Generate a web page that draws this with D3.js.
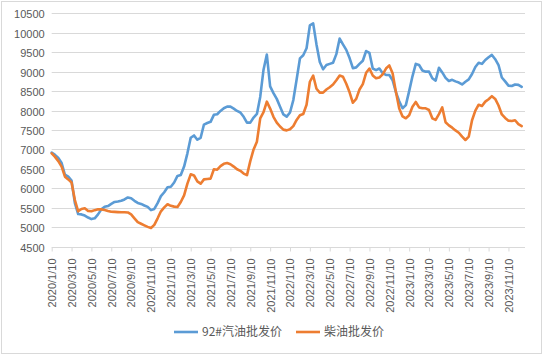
<!DOCTYPE html>
<html><head><meta charset="utf-8">
<script src="https://cdn.jsdelivr.net/npm/d3@7"></script>
<style>
body{margin:0;background:#fff;}
svg{display:block;font-family:"Liberation Sans",Arial,sans-serif;}
</style></head>
<body><svg id="c" width="544" height="356"></svg>
<script>
const seriesNames = ["92#汽油批发价", "柴油批发价"];
const gasoline = [6920,6860,6780,6650,6350,6300,6200,5620,5340,5330,5300,5250,5210,5230,5330,5460,5525,5545,5600,5650,
5660,5680,5715,5765,5745,5680,5625,5600,5560,5525,5440,5470,5620,5800,5900,6030,6040,6150,6320,6344,
6560,6900,7300,7360,7250,7300,7640,7680,7710,7890,7905,7990,8060,8100,8100,8050,7990,7950,7840,7690,
7690,7820,7912,8350,9050,9440,8620,8450,8300,8100,7900,7843,7950,8270,8800,9340,9420,9600,10190,10240,
9700,9250,9060,9170,9200,9230,9450,9850,9700,9560,9350,9090,9110,9200,9280,9530,9480,9080,9040,9080,
8960,8915,8915,8780,8470,8240,8060,8140,8500,8880,9200,9170,9030,9000,9000,8830,8770,9100,8980,8840,
8760,8790,8750,8720,8670,8740,8800,8940,9120,9230,9200,9300,9370,9430,9320,9170,8850,8750,8640,8630,
8670,8660,8610];
const diesel = [6900,6810,6700,6560,6300,6230,6150,5700,5410,5470,5490,5420,5410,5440,5463,5460,5445,5420,5400,5395,
5390,5386,5386,5380,5330,5230,5130,5090,5050,5010,4980,5060,5230,5410,5510,5590,5550,5530,5520,5650,
5820,6120,6360,6330,6180,6120,6230,6240,6250,6490,6480,6570,6630,6650,6620,6560,6490,6450,6380,6340,
6700,7000,7200,7800,7960,8228,8050,7840,7690,7590,7510,7490,7520,7600,7760,7880,7912,8150,8740,8900,
8560,8460,8460,8540,8600,8670,8780,8900,8870,8690,8470,8200,8300,8540,8680,8970,9080,8900,8829,8850,
8930,9080,9160,8960,8480,8050,7850,7801,7880,8100,8220,8080,8058,8058,8015,7801,7758,7910,8080,7700,
7620,7560,7490,7430,7329,7244,7329,7750,8000,8150,8117,8230,8290,8370,8300,8130,7900,7810,7740,7730,
7750,7650,7600];
const tickLabels = ["2020/1/10","2020/3/10","2020/5/10","2020/7/10","2020/9/10","2020/11/10",
"2021/1/10","2021/3/10","2021/5/10","2021/7/10","2021/9/10","2021/11/10",
"2022/1/10","2022/3/10","2022/5/10","2022/7/10","2022/9/10","2022/11/10",
"2023/1/10","2023/3/10","2023/5/10","2023/7/10","2023/9/10","2023/11/10"];
const yTicks = [4500,5000,5500,6000,6500,7000,7500,8000,8500,9000,9500,10000,10500];

// categories: 10th, 20th and month end of each month, 2020-2023
const categories = [];
for (let y = 2020; y <= 2023; y++) for (let m = 1; m <= 12; m++) {
  const last = new Date(y, m, 0).getDate();
  [10, 20, Math.min(30, last)].forEach(d => categories.push(`${y}/${m}/${d}`));
}

const svg = d3.select("#c");
svg.append("rect").attr("x",1.5).attr("y",1.5).attr("width",540).attr("height",352)
  .attr("fill","#fff").attr("stroke","#d9d9d9");

const x = d3.scalePoint().domain(categories).range([51.7, 525]);
const y = d3.scaleLinear().domain([4500, 10500]).range([246.7, 13.3]);

// grid
svg.append("g").selectAll("line").data(yTicks.slice(1)).join("line")
  .attr("x1", 51.7).attr("x2", 525).attr("y1", d => Math.round(y(d))+0.5).attr("y2", d => Math.round(y(d))+0.5)
  .attr("stroke", "#d9d9d9").attr("stroke-width", 1);

// y axis labels
const ya = svg.append("g").attr("transform","translate(51.7,0)")
  .call(d3.axisLeft(y).tickValues(yTicks).tickSize(0).tickPadding(7).tickFormat(d3.format("d")));
ya.select(".domain").remove();
ya.selectAll("text").attr("fill","#595959").style("font-size","11px")
  .attr("y", 0).attr("dy","0.35em")
  .attr("transform", d => `translate(0,${Math.round(y(d))+0.5 - y(d)})`);

// x axis
const xa = svg.append("g").attr("transform", `translate(0,${Math.round(y(4500))+0.5})`)
  .call(d3.axisBottom(x).tickValues(tickLabels).tickSizeInner(4).tickSizeOuter(0));
xa.select(".domain").attr("stroke","#d9d9d9").attr("d","M51.7,0H525");
xa.selectAll(".tick line").attr("stroke","#d9d9d9");
xa.selectAll(".tick text").attr("fill","#595959").style("font-size","11px")
  .attr("transform","rotate(-90)").attr("text-anchor","end")
  .attr("x",-11).attr("y",0).attr("dy","0.35em");

// lines
const colors = ["#5b9bd5", "#ed7d31"];
const data = [gasoline, diesel];
const line = d3.line().x((d,i) => x(categories[i])).y(d => y(d)).curve(d3.curveLinear);
data.forEach((s, k) => {
  svg.append("path").datum(s).attr("d", line).attr("fill","none")
    .attr("stroke", colors[k]).attr("stroke-width", 2.6).attr("stroke-linejoin","round").attr("stroke-linecap","round");
});

// legend
const legX = [174, 296];
const leg = svg.append("g");
seriesNames.forEach((n, k) => {
  leg.append("line").attr("x1", legX[k]).attr("x2", legX[k]+24).attr("y1", 332).attr("y2", 332)
    .attr("stroke", colors[k]).attr("stroke-width", 2.6);
  leg.append("text").attr("x", legX[k]+28).attr("y", 332).attr("dy","0.35em")
    .attr("fill","#595959").style("font-size","12px")
    .style("font-family","'Noto Sans CJK SC','Liberation Sans',sans-serif").text(n);
});
</script></body></html>
